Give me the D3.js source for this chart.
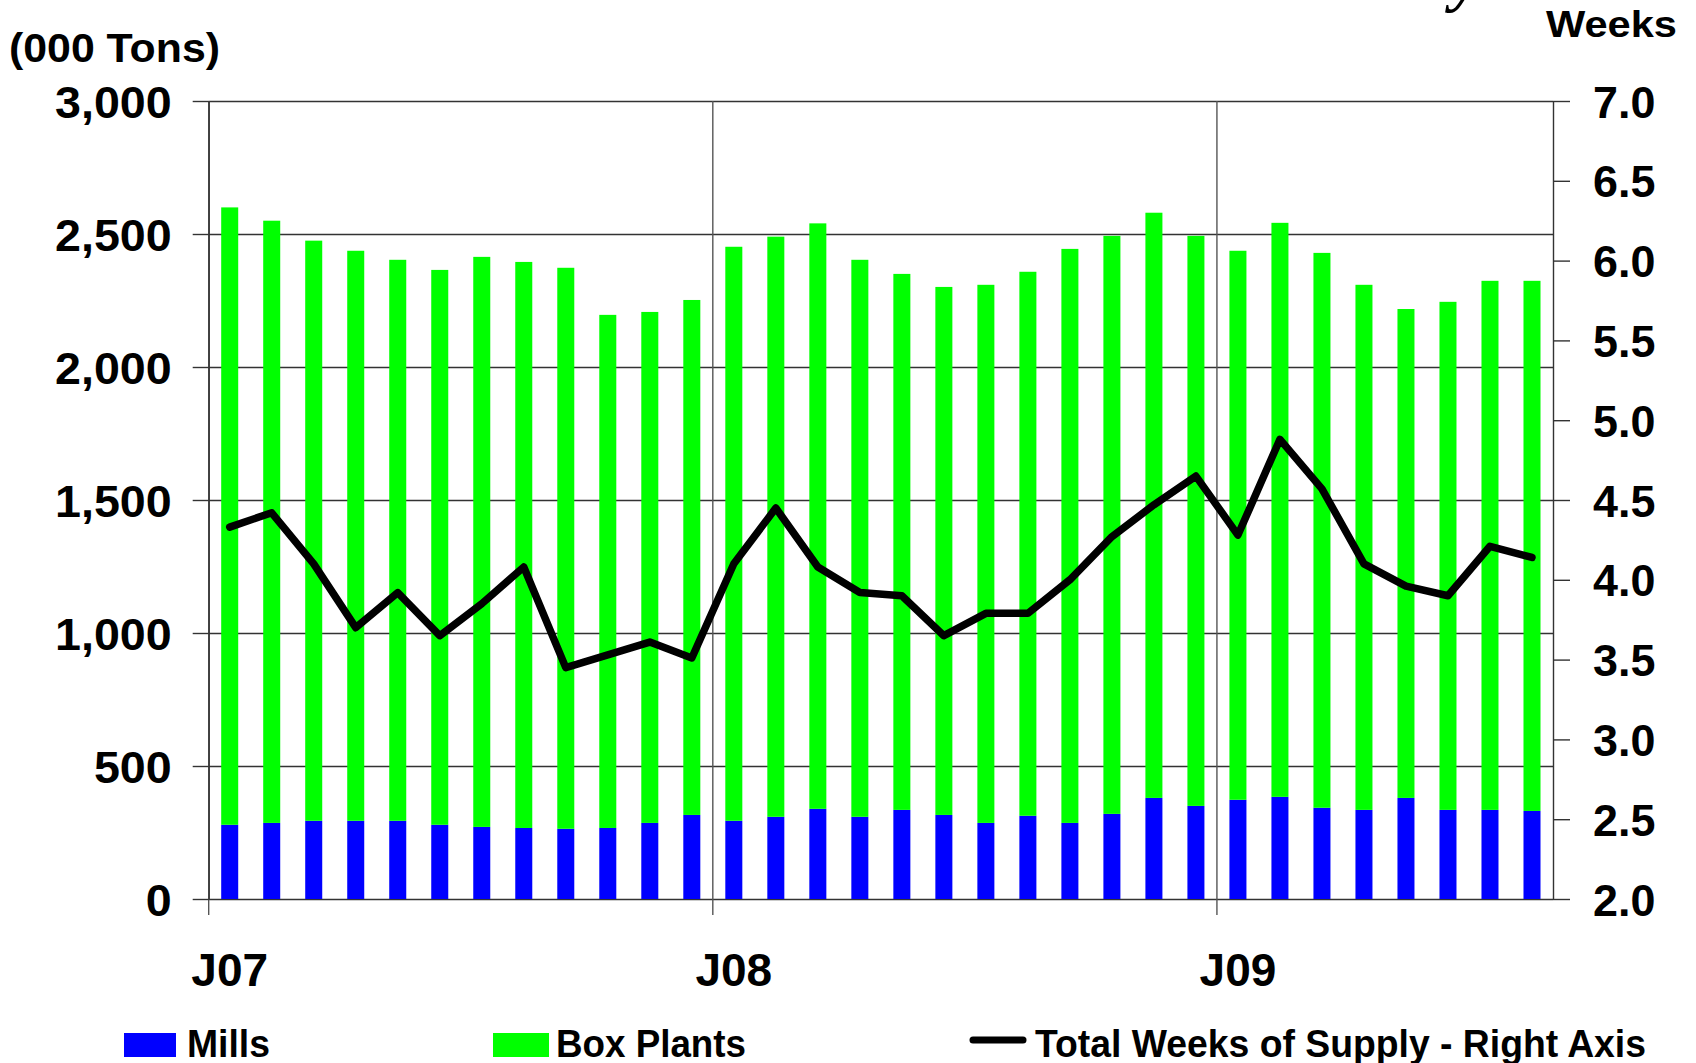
<!DOCTYPE html>
<html><head><meta charset="utf-8">
<script src="https://cdn.jsdelivr.net/npm/d3@7"></script>
<style>html,body{margin:0;padding:0;background:#fff;overflow:hidden}</style>
</head><body>
<svg id="chart" width="1696" height="1063"></svg>
<script>
// ---- data ----
const months = ["Jan-07","Feb-07","Mar-07","Apr-07","May-07","Jun-07","Jul-07","Aug-07","Sep-07","Oct-07","Nov-07","Dec-07",
                "Jan-08","Feb-08","Mar-08","Apr-08","May-08","Jun-08","Jul-08","Aug-08","Sep-08","Oct-08","Nov-08","Dec-08",
                "Jan-09","Feb-09","Mar-09","Apr-09","May-09","Jun-09","Jul-09","Aug-09"];
const mills = [279,286,294,294,294,279,271,267,264,267,286,316,
               294,309,339,309,335,316,286,313,286,320,380,350,
               373,384,343,335,380,335,335,331];
const boxPlants = [2321,2264,2181,2143,2109,2086,2143,2128,2109,1929,1921,1936,
                   2158,2181,2201,2094,2015,1985,2023,2045,2158,2173,2200,2143,
                   2064,2158,2086,1974,1838,1910,1989,1993];
const weeksOfSupply = [4.33,4.42,4.10,3.70,3.92,3.65,3.85,4.08,3.45,3.53,3.61,3.51,
                       4.10,4.45,4.08,3.92,3.90,3.65,3.79,3.79,4.00,4.27,4.47,4.65,
                       4.28,4.88,4.57,4.10,3.96,3.90,4.21,4.14];
const leftTicks = [0,500,1000,1500,2000,2500,3000];
const rightTicks = [2.0,2.5,3.0,3.5,4.0,4.5,5.0,5.5,6.0,6.5,7.0];
const yearStarts = ["Jan-07","Jan-08","Jan-09"];
const yearLabels = ["J07","J08","J09"];

// ---- layout ----
const FONT = "'Liberation Sans', Arial, Helvetica, sans-serif";
const svg = d3.select("#chart");
const plotLeft = 208.7, plotRight = 1553, plotTop = 101, plotBottom = 899;

const x = d3.scaleBand().domain(months).range([plotLeft, plotRight])
  .paddingInner(0.595).paddingOuter(0.2975);
const yL = d3.scaleLinear().domain([0, 3000]).range([plotBottom, plotTop]);
const yR = d3.scaleLinear().domain([2, 7]).range([plotBottom, plotTop]);
const gap = (x.step() - x.bandwidth()) / 2;

// horizontal gridlines
const grid = svg.append("g").attr("transform", `translate(${plotLeft},0)`)
  .call(d3.axisLeft(yL).tickValues(leftTicks).tickSize(-(plotRight - plotLeft)).tickFormat(""));
grid.select(".domain").remove();
grid.selectAll("line").attr("stroke", "#333").attr("stroke-width", 1.4);

// vertical year gridlines
svg.append("g").selectAll("line").data(yearStarts).join("line")
  .attr("x1", d => x(d) - gap).attr("x2", d => x(d) - gap)
  .attr("y1", plotTop).attr("y2", plotBottom + 16)
  .attr("stroke", "#555").attr("stroke-width", 1.4);

// stacked bars
const rows = months.map((m, i) => ({month: m, mills: mills[i], box: boxPlants[i]}));
const stack = d3.stack().keys(["mills", "box"])(rows);
const colors = {mills: "#0000FF", box: "#00FF00"};
svg.append("g").selectAll("g").data(stack).join("g")
  .attr("fill", s => colors[s.key])
  .selectAll("rect").data(s => s).join("rect")
  .attr("x", d => x(d.data.month))
  .attr("width", x.bandwidth())
  .attr("y", d => yL(d[1]))
  .attr("height", d => yL(d[0]) - yL(d[1]));

// left axis
const gl = svg.append("g").attr("transform", `translate(${plotLeft},0)`)
  .call(d3.axisLeft(yL).tickValues(leftTicks).tickFormat(d3.format(","))
        .tickSizeInner(16).tickSizeOuter(0).tickPadding(21));
gl.select(".domain").attr("stroke", "#333").attr("stroke-width", 1.4);
gl.selectAll("line").attr("stroke", "#333").attr("stroke-width", 1.4);
gl.selectAll("text").attr("font-family", FONT).attr("font-weight", "bold")
  .attr("font-size", 44).attr("fill", "#000").attr("dy", 16)
  .attr("x", -37 / 1.06).attr("transform", "scale(1.06,1)");

// right axis
const gr = svg.append("g").attr("transform", `translate(${plotRight},0)`)
  .call(d3.axisRight(yR).tickValues(rightTicks).tickFormat(d3.format(".1f"))
        .tickSizeInner(17).tickSizeOuter(0).tickPadding(23));
gr.select(".domain").attr("stroke", "#333").attr("stroke-width", 1.4);
gr.selectAll("line").attr("stroke", "#333").attr("stroke-width", 1.4);
gr.selectAll("text").attr("font-family", FONT).attr("font-weight", "bold")
  .attr("font-size", 44).attr("fill", "#000").attr("dy", 16)
  .attr("x", 40 / 1.02).attr("transform", "scale(1.02,1)");

// year labels
svg.append("g").selectAll("text").data(yearStarts).join("text")
  .attr("x", d => x(d) + x.bandwidth() / 2).attr("y", 986)
  .attr("text-anchor", "middle").attr("font-family", FONT).attr("font-weight", "bold")
  .attr("font-size", 46).text((d, i) => yearLabels[i]);

// weeks line
const line = d3.line().x((d, i) => x(months[i]) + x.bandwidth() / 2).y(d => yR(d));
svg.append("path").datum(weeksOfSupply).attr("d", line)
  .attr("fill", "none").attr("stroke", "#000").attr("stroke-width", 7.5)
  .attr("stroke-linejoin", "round").attr("stroke-linecap", "round");

// axis titles
svg.append("text").attr("x", 9).attr("y", 62).attr("font-family", FONT).attr("font-weight", "bold")
  .attr("font-size", 41).attr("textLength", 211).attr("lengthAdjust", "spacingAndGlyphs").text("(000 Tons)");
svg.append("text").attr("x", 1546).attr("y", 37).attr("font-family", FONT).attr("font-weight", "bold")
  .attr("font-size", 36).attr("textLength", 131).attr("lengthAdjust", "spacingAndGlyphs").text("Weeks");

// cut-off chart title (only its descender shows at the top edge)
svg.append("text").attr("x", 1480).attr("y", -1).attr("text-anchor", "end")
  .attr("font-family", "'Liberation Serif', 'Times New Roman', serif").attr("font-weight", "bold")
  .attr("font-style", "italic").attr("font-size", 64).text("Containerboard Inventory");

// legend
const lg = svg.append("g");
lg.append("rect").attr("x", 124).attr("y", 1033).attr("width", 52).attr("height", 24).attr("fill", colors.mills);
lg.append("rect").attr("x", 493).attr("y", 1033).attr("width", 56).attr("height", 24).attr("fill", colors.box);
lg.append("line").attr("x1", 973).attr("x2", 1023).attr("y1", 1040).attr("y2", 1040)
  .attr("stroke", "#000").attr("stroke-width", 7).attr("stroke-linecap", "round");
const legendText = [{t: "Mills", x: 187, w: 83}, {t: "Box Plants", x: 556, w: 190}, {t: "Total Weeks of Supply - Right Axis", x: 1035, w: 611}];
lg.selectAll("text.lt").data(legendText).join("text").attr("class", "lt")
  .attr("x", d => d.x).attr("y", 1057).attr("font-family", FONT).attr("font-weight", "bold")
  .attr("font-size", 38).attr("textLength", d => d.w).attr("lengthAdjust", "spacingAndGlyphs").text(d => d.t);
</script>
</body></html>
